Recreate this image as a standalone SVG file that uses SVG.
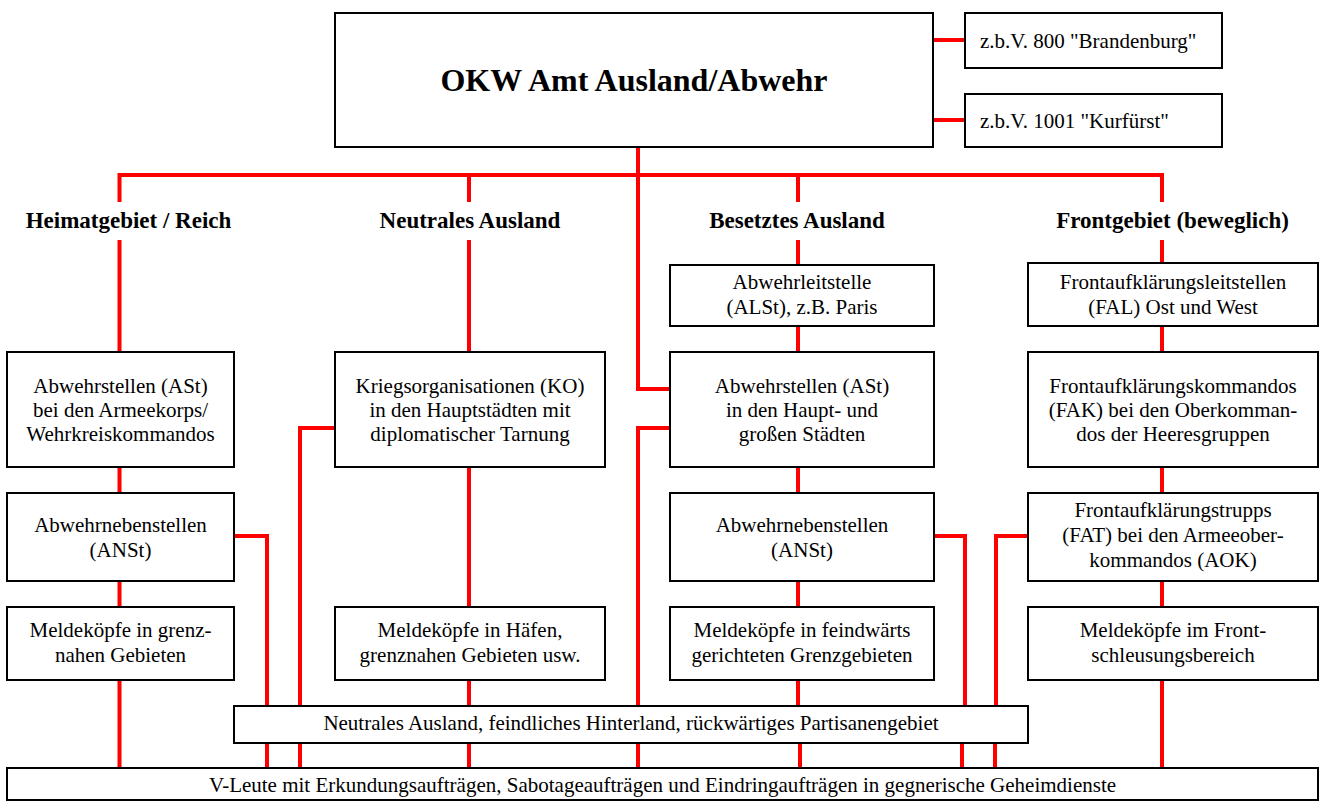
<svg xmlns="http://www.w3.org/2000/svg" width="1323" height="802" viewBox="0 0 1323 802">
<style>
.box{fill:#fff;stroke:#000;stroke-width:2}
.ln{fill:none;stroke:#f00;stroke-width:4;stroke-linejoin:miter;stroke-linecap:butt}
text{font-family:"Liberation Serif","Times New Roman",serif;font-size:21px;fill:#000;text-anchor:middle}
.h{font-weight:bold;font-size:23px}
.title{font-weight:bold;font-size:32px}
.l{text-anchor:start}
</style>
<rect width="1323" height="802" fill="#fff"/>
<g id="connectors" class="ln">
<path d="M638 147V389H670"/>
<path d="M119.5 202V175H1162V202"/>
<path d="M933 40H965M933 120H965"/>
<path d="M119.5 240V352M119.5 467V493M119.5 581V607M119.5 680V768"/>
<path d="M469 175V202M469 240V352M469 467V607M469 680V706M469 743V768"/>
<path d="M798 175V202M798 240V265M798 326V352M798 467V493M798 581V607M798 680V706M800 743V768"/>
<path d="M1162 240V263M1162 326V352M1162 467V493M1162 581V607M1162 680V768"/>
<path d="M335 428H300V706M300 743V768"/>
<path d="M234 536H267V706M267 743V768"/>
<path d="M670 428H638V706M638 743V768"/>
<path d="M934 536H965V706M962 743V768"/>
<path d="M1028 536H996V706M995 743V768"/>
</g>
<g id="okw"><rect class="box" x="335" y="13" width="598" height="134"/><text class="title" x="634" y="91">OKW Amt Ausland/Abwehr</text></g>
<g id="brandenburg"><rect class="box" x="965" y="13" width="257" height="55"/><text class="l" x="980" y="48">z.b.V. 800 "Brandenburg"</text></g>
<g id="kurfuerst"><rect class="box" x="965" y="94" width="257" height="53"/><text class="l" x="980" y="128">z.b.V. 1001 "Kurfürst"</text></g>
<g id="h-heimat"><text class="h" x="128.5" y="228">Heimatgebiet / Reich</text></g>
<g id="h-neutral"><text class="h" x="470" y="228">Neutrales Ausland</text></g>
<g id="h-besetzt"><text class="h" x="797" y="228">Besetztes Ausland</text></g>
<g id="h-front"><text class="h" x="1172.5" y="228">Frontgebiet (beweglich)</text></g>
<g id="ast-reich"><rect class="box" x="7" y="352" width="227" height="115"/><text x="120.5" y="393">Abwehrstellen (ASt)</text><text x="120.5" y="417">bei den Armeekorps/</text><text x="120.5" y="441">Wehrkreiskommandos</text></g>
<g id="anst-reich"><rect class="box" x="7" y="493" width="227" height="88"/><text x="120.5" y="532">Abwehrnebenstellen</text><text x="120.5" y="557">(ANSt)</text></g>
<g id="melde-reich"><rect class="box" x="7" y="607" width="227" height="73"/><text x="120.5" y="637">Meldeköpfe in grenz-</text><text x="120.5" y="662">nahen Gebieten</text></g>
<g id="ko"><rect class="box" x="335" y="352" width="270" height="115"/><text x="470" y="393">Kriegsorganisationen (KO)</text><text x="470" y="417">in den Hauptstädten mit</text><text x="470" y="441">diplomatischer Tarnung</text></g>
<g id="melde-neutral"><rect class="box" x="335" y="607" width="270" height="73"/><text x="470" y="637">Meldeköpfe in Häfen,</text><text x="470" y="662">grenznahen Gebieten usw.</text></g>
<g id="alst"><rect class="box" x="670" y="265" width="264" height="61"/><text x="802" y="289">Abwehrleitstelle</text><text x="802" y="314">(ALSt), z.B. Paris</text></g>
<g id="ast-besetzt"><rect class="box" x="670" y="352" width="264" height="115"/><text x="802" y="393">Abwehrstellen (ASt)</text><text x="802" y="417">in den Haupt- und</text><text x="802" y="441">großen Städten</text></g>
<g id="anst-besetzt"><rect class="box" x="670" y="493" width="264" height="88"/><text x="802" y="532">Abwehrnebenstellen</text><text x="802" y="557">(ANSt)</text></g>
<g id="melde-besetzt"><rect class="box" x="670" y="607" width="264" height="73"/><text x="802" y="637">Meldeköpfe in feindwärts</text><text x="802" y="662">gerichteten Grenzgebieten</text></g>
<g id="fal"><rect class="box" x="1028" y="263" width="290" height="63"/><text x="1173" y="289">Frontaufklärungsleitstellen</text><text x="1173" y="314">(FAL) Ost und West</text></g>
<g id="fak"><rect class="box" x="1028" y="352" width="290" height="115"/><text x="1173" y="393">Frontaufklärungskommandos</text><text x="1173" y="417">(FAK) bei den Oberkomman-</text><text x="1173" y="441">dos der Heeresgruppen</text></g>
<g id="fat"><rect class="box" x="1028" y="493" width="290" height="88"/><text x="1173" y="517">Frontaufklärungstrupps</text><text x="1173" y="542">(FAT) bei den Armeeober-</text><text x="1173" y="567">kommandos (AOK)</text></g>
<g id="melde-front"><rect class="box" x="1028" y="607" width="290" height="73"/><text x="1173" y="637">Meldeköpfe im Front-</text><text x="1173" y="662">schleusungsbereich</text></g>
<g id="neutral-hinterland"><rect class="box" x="234" y="706" width="794" height="37"/><text x="631" y="730">Neutrales Ausland, feindliches Hinterland, rückwärtiges Partisanengebiet</text></g>
<g id="v-leute"><rect class="box" x="7" y="768" width="1311" height="32"/><text x="662.5" y="792">V-Leute mit Erkundungsaufträgen, Sabotageaufträgen und Eindringaufträgen in gegnerische Geheimdienste</text></g>
</svg>
